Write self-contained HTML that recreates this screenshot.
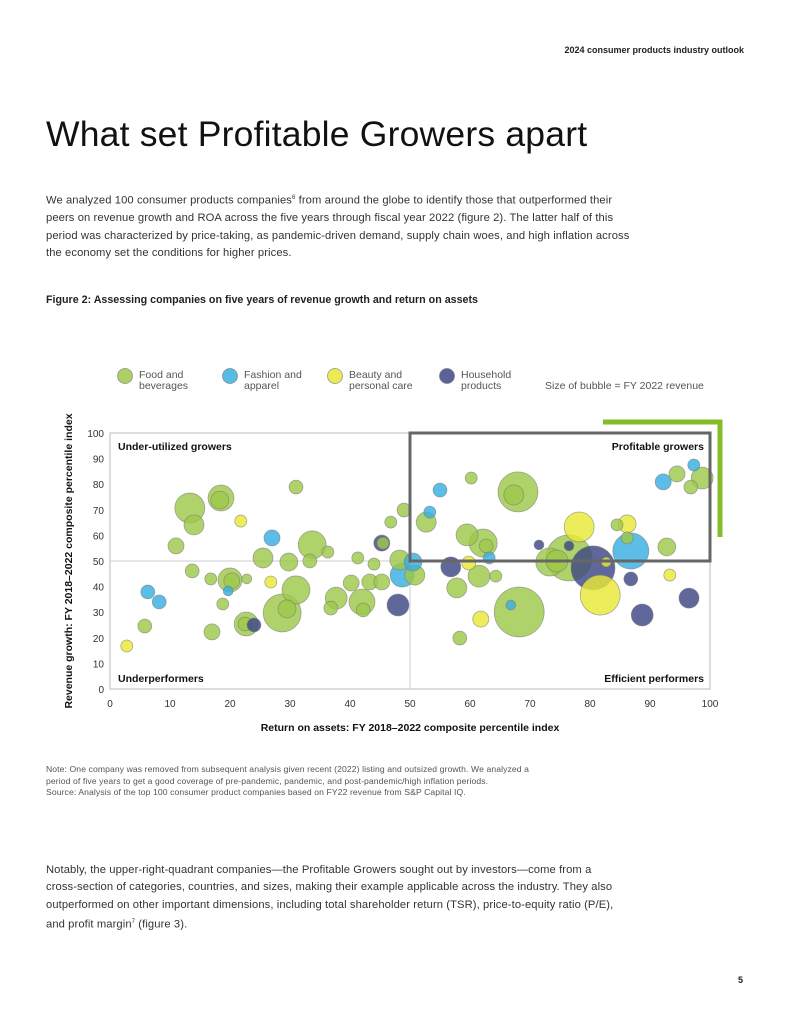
<!DOCTYPE html>
<html><head><meta charset="utf-8"><style>
body{margin:0;background:#fff;font-family:"Liberation Sans",sans-serif;color:#222}
#pg{position:relative;width:791px;height:1024px;overflow:hidden}
.t{position:absolute;white-space:nowrap}
</style></head><body><div id="pg">
<div class="t" style="right:47px;top:45px;font-size:9px;font-weight:bold">2024 consumer products industry outlook</div>
<div class="t" style="left:46px;top:114px;font-size:35.5px;font-weight:300;color:#111;letter-spacing:0.2px">What set Profitable Growers apart</div>
<div class="t" style="left:46px;top:190px;font-size:11.2px;line-height:17.4px;color:#333;letter-spacing:0.1px">We analyzed 100 consumer products companies<sup style="font-size:6px">6</sup> from around the globe to identify those that outperformed their<br>peers on revenue growth and ROA across the five years through fiscal year 2022 (figure 2). The latter half of this<br>period was characterized by price-taking, as pandemic-driven demand, supply chain woes, and high inflation across<br>the economy set the conditions for higher prices.</div>
<div class="t" style="left:46px;top:294px;font-size:10.7px;font-weight:bold">Figure 2: Assessing companies on five years of revenue growth and return on assets</div>
<svg id="ch" width="791" height="1024" style="position:absolute;left:0;top:0"></svg>
<div class="t" style="left:46px;top:764px;font-size:8.6px;line-height:11.5px;color:#555;letter-spacing:0.1px">Note: One company was removed from subsequent analysis given recent (2022) listing and outsized growth. We analyzed a<br>period of five years to get a good coverage of pre-pandemic, pandemic, and post-pandemic/high inflation periods.<br>Source: Analysis of the top 100 consumer product companies based on FY22 revenue from S&amp;P Capital IQ.</div>
<div class="t" style="left:46px;top:862px;font-size:11.2px;line-height:17.4px;color:#333;letter-spacing:0.1px">Notably, the upper-right-quadrant companies—the Profitable Growers sought out by investors—come from a<br>cross-section of categories, countries, and sizes, making their example applicable across the industry. They also<br>outperformed on other important dimensions, including total shareholder return (TSR), price-to-equity ratio (P/E),<br>and profit margin<sup style="font-size:6px">7</sup> (figure 3).</div>
<div class="t" style="left:738px;top:975px;font-size:9px;font-weight:bold">5</div>
</div>
<script>
const roa=[13.3,14.0,18.5,18.3,31.0,21.8,27.0,11.0,33.7,36.3,45.5,45.3,49.0,25.5,29.8,33.3,41.3,44.0,13.7,16.8,20.0,20.3,22.8,26.8,31.0,19.7,6.3,8.2,18.8,40.2,43.3,45.3,37.7,42.0,42.2,36.8,48.0,28.7,29.5,22.7,22.5,24.0,17.0,5.8,2.8,46.8,48.7,50.5,48.3,50.8,60.2,55.0,53.3,52.7,59.5,62.2,62.7,63.2,68.0,67.3,71.5,59.8,56.8,64.3,61.5,57.8,68.2,66.8,61.8,58.3,73.3,74.5,80.5,78.2,76.5,76.5,84.5,86.2,86.2,86.8,82.7,81.7,86.8,88.7,92.8,93.3,96.5,92.2,94.5,97.3,98.7,96.8];
const growth=[70.7,64.1,74.6,73.8,78.9,65.6,59.0,55.9,56.3,53.5,57.0,57.0,69.9,51.2,49.6,50.0,51.2,48.8,46.1,43.0,42.6,42.2,43.0,41.8,38.7,38.3,37.9,34.0,33.2,41.4,41.8,41.8,35.5,34.0,30.9,31.6,32.8,29.7,31.3,25.4,25.4,25.0,22.3,24.6,16.8,65.2,44.5,49.6,50.4,44.5,82.4,77.7,69.1,65.2,60.2,57.0,55.9,51.2,77.0,75.8,56.3,49.2,47.7,44.1,44.1,39.5,30.1,32.8,27.3,19.9,49.6,50.0,47.3,63.3,51.2,55.9,64.1,64.5,59.0,53.9,49.6,36.7,43.0,28.9,55.5,44.5,35.5,80.9,84.0,87.5,82.4,78.9];
const revenue=[56,25,42,20,12,9,16,16,49,9,9,16,12,25,20,12,9,9,12,9,36,16,6,9,49,6,12,12,9,16,16,16,30,42,12,12,30,90,20,36,12,12,16,12,9,9,36,20,25,25,9,12,9,25,30,49,12,9,100,25,6,12,25,9,30,25,156,6,16,12,49,30,121,56,132,6,9,20,9,81,6,100,12,30,20,9,25,16,16,9,30,12];
const category=["f","f","f","f","f","b","a","f","f","f","f","h","f","f","f","f","f","f","f","f","f","f","f","b","f","a","a","a","f","f","f","f","f","f","f","f","h","f","f","f","f","h","f","f","b","f","a","a","f","f","f","a","a","f","f","f","f","a","f","f","h","b","h","f","f","f","f","a","b","f","f","f","h","b","f","h","f","b","f","a","b","b","h","h","f","b","h","a","f","a","f","f"];
const xTicks=[0,10,20,30,40,50,60,70,80,90,100];
const yTicks=[0,10,20,30,40,50,60,70,80,90,100];
const legendLabels=[["Food and","beverages"],["Fashion and","apparel"],["Beauty and","personal care"],["Household","products"]];
const colors={f:"#9dc84a",a:"#38afe0",b:"#e9e836",h:"#3d4785"};
const cats=["f","a","b","h"];
const X0=110,X1=710,Y0=689,Y1=433;
const sx=v=>X0+(v/100)*(X1-X0), sy=v=>Y0-(v/100)*(Y0-Y1);
const NS="http://www.w3.org/2000/svg", svg=document.getElementById("ch");
function mk(t,a,txt){const e=document.createElementNS(NS,t);for(const k in a)e.setAttribute(k,a[k]);if(txt!=null)e.textContent=txt;svg.appendChild(e);return e;}
let e;
e=mk("rect",{x:X0,y:Y1,width:X1-X0,height:Y0-Y1,fill:"none",stroke:"#bbb","stroke-width":1});


e=mk("line",{x1:sx(50),x2:sx(50),y1:Y1,y2:Y0,stroke:"#ccc"});


e=mk("line",{x1:X0,x2:X1,y1:sy(50),y2:sy(50),stroke:"#ccc"});


e=mk("path",{d:`M603 422 H720 V537`,fill:"none",stroke:"#86bc25","stroke-width":5});


xTicks.forEach(v=>{e=mk("text",{x:sx(v),y:707,"font-size":10,"text-anchor":"middle",fill:"#333"},v);

});
yTicks.forEach(v=>{e=mk("text",{x:104,y:sy(v)+4,"font-size":10,"text-anchor":"end",fill:"#333"},v);

});
const idx=roa.map((_,i)=>i).sort((a,b)=>revenue[b]-revenue[a]);
idx.forEach(i=>{e=mk("circle",{cx:sx(roa[i]),cy:sy(growth[i]),r:2*Math.sqrt(revenue[i]),fill:colors[category[i]],"fill-opacity":0.82,stroke:"#777","stroke-opacity":0.6,"stroke-width":0.8});

});
e=mk("rect",{x:sx(50),y:Y1,width:sx(100)-sx(50),height:sy(50)-Y1,fill:"none",stroke:"#666","stroke-width":3});


[["Under-utilized growers",118,450,"start"],["Profitable growers",704,450,"end"],["Underperformers",118,682,"start"],["Efficient performers",704,682,"end"]].forEach(q=>{
e=mk("text",{x:q[1],y:q[2],"font-size":10.5,"font-weight":"bold","text-anchor":q[3],fill:"#111"},q[0]);

});
e=mk("text",{x:410,y:731,"font-size":10.5,"font-weight":"bold","text-anchor":"middle",fill:"#111"},"Return on assets: FY 2018–2022 composite percentile index");


e=mk("text",{x:0,y:0,"font-size":10.5,"font-weight":"bold","text-anchor":"middle",fill:"#111",transform:"translate(72,561) rotate(-90)"},"Revenue growth: FY 2018–2022 composite percentile index");


const lx=[125,230,335,447];
cats.forEach((c,i)=>{
e=mk("circle",{cx:lx[i],cy:376,r:7.5,fill:colors[c],"fill-opacity":0.85,stroke:"#777","stroke-opacity":0.6});


e=mk("text",{x:lx[i]+14,y:378,"font-size":10.5,fill:"#555"},legendLabels[i][0]);


e=mk("text",{x:lx[i]+14,y:389,"font-size":10.5,fill:"#555"},legendLabels[i][1]);

});
e=mk("text",{x:545,y:389,"font-size":10.5,fill:"#555"},"Size of bubble = FY 2022 revenue");


</script></body></html>
